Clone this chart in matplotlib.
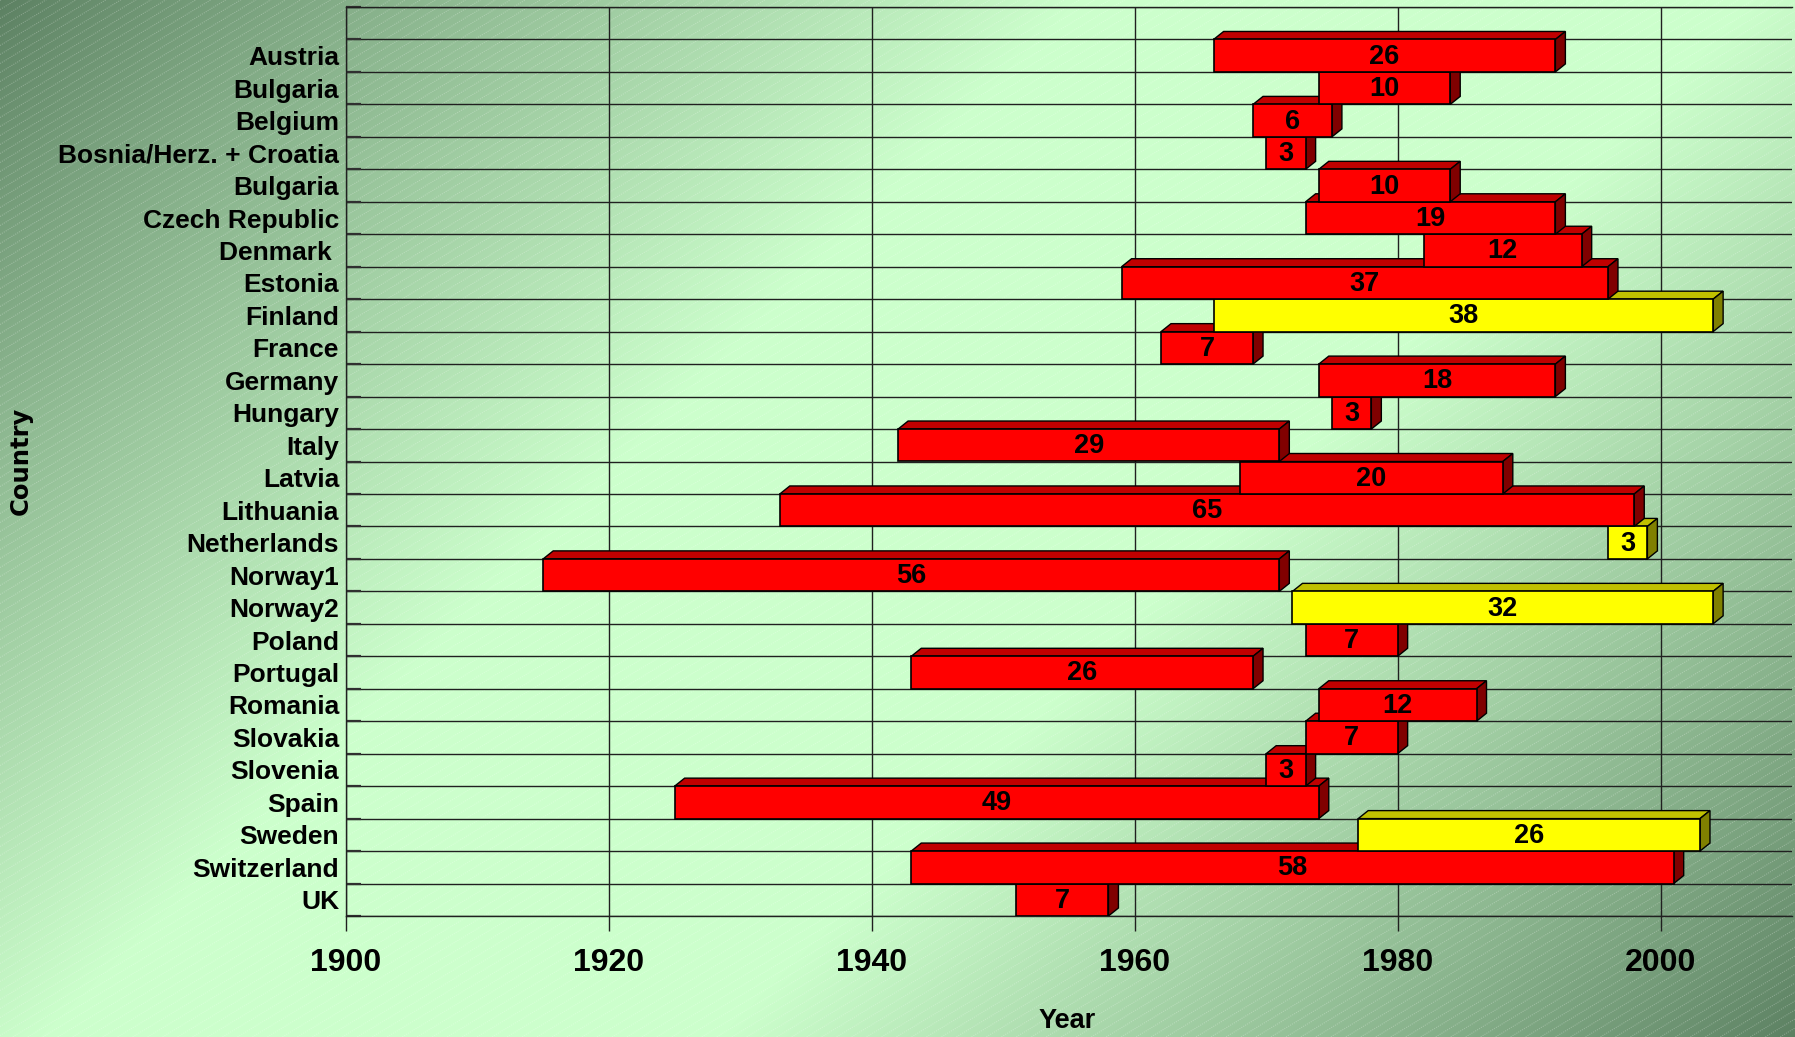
import numpy as np
import matplotlib
matplotlib.use("Agg")
import matplotlib.pyplot as plt
from matplotlib.patches import Rectangle, Polygon
from matplotlib.collections import LineCollection

# data: first year and length (years) of each period
countries = ['Austria', 'Bulgaria', 'Belgium', 'Bosnia/Herz. + Croatia', 'Bulgaria',
             'Czech Republic', 'Denmark ', 'Estonia', 'Finland', 'France', 'Germany',
             'Hungary', 'Italy', 'Latvia', 'Lithuania', 'Netherlands', 'Norway1',
             'Norway2', 'Poland', 'Portugal', 'Romania', 'Slovakia', 'Slovenia',
             'Spain', 'Sweden', 'Switzerland', 'UK']
start_year = [1966, 1974, 1969, 1970, 1974, 1973, 1982, 1959, 1966, 1962, 1974,
              1975, 1942, 1968, 1933, 1996, 1915, 1972, 1973, 1943, 1974, 1973,
              1970, 1925, 1977, 1943, 1951]
n_years = [26, 10, 6, 3, 10, 19, 12, 37, 38, 7, 18, 3, 29, 20, 65, 3, 56, 32, 7,
           26, 12, 7, 3, 49, 26, 58, 7]
yellow = ['Finland', 'Netherlands', 'Norway2', 'Sweden']
xticks = [1900, 1920, 1940, 1960, 1980, 2000]

W, H = 1795, 1037
plt.rcParams['font.family'] = ['Liberation Sans', 'DejaVu Sans']
fig = plt.figure(figsize=(W / 100, H / 100), dpi=100)

# background: diagonal green gradient with faint dotted diagonal lines
bg = fig.add_axes([0, 0, 1, 1], zorder=-10)
xx, yy = np.meshgrid(np.arange(W), np.arange(H))
t = (xx + yy) / (W + H)
w = np.clip((0.5 - np.abs(t - 0.5)) / 0.38, 0, 1) ** 0.9
dark = np.array([0x5c, 0x80, 0x62]) / 255
light = np.array([0xcc, 0xff, 0xcc]) / 255
img = dark[None, None, :] * (1 - w[..., None]) + light[None, None, :] * w[..., None]
bg.imshow(img, extent=(0, W, H, 0), aspect='auto', interpolation='bilinear')
slope = np.tan(np.radians(31))
segs = []
for c in np.arange(-W * slope, H + 20, 9):
    segs.append([(0, H - c), (W, H - c - W * slope)])
bg.add_collection(LineCollection(segs, colors=[(1, 1, 1, 0.25)], linewidths=0.8,
                                 linestyles=[(0, (1, 1))]))
bg.set_xlim(0, W)
bg.set_ylim(H, 0)
bg.axis('off')

ax = fig.add_axes([346 / W, (H - 916) / H, 1446 / W, 909 / H])
ax.patch.set_alpha(0)
n = len(countries)
ax.set_xlim(1900, 2010)
ax.set_ylim(n - 0.5, -1.5)

# 3d depth of the bars, in pixels turned into data units
dx = 10 * 110 / ax.bbox.width
dy = 8 * (n + 1) / ax.bbox.height

for i in range(n):
    x0, d = start_year[i], n_years[i]
    if countries[i] in yellow:
        front, top, side = '#ffff00', '#c0c000', '#808000'
    else:
        front, top, side = '#ff0000', '#c00000', '#800000'
    z = 10 + (n - i)
    yt, yb = i - 0.5, i + 0.5
    ax.add_patch(Polygon([(x0, yt), (x0 + d, yt), (x0 + d + dx, yt - dy), (x0 + dx, yt - dy)],
                         closed=True, fc=top, ec='black', lw=1.0, zorder=z))
    ax.add_patch(Polygon([(x0 + d, yt), (x0 + d, yb), (x0 + d + dx, yb - dy), (x0 + d + dx, yt - dy)],
                         closed=True, fc=side, ec='black', lw=1.0, zorder=z))
    ax.add_patch(Rectangle((x0, yt), d, 1, fc=front, ec='black', lw=1.2, zorder=z))
    ax.text(x0 + d / 2, i + 0.03, str(d), ha='center', va='center', fontsize=19.5,
            fontweight='bold', color='black', zorder=z)

ax.set_xticks(xticks)
ax.set_xticklabels([str(v) for v in xticks], fontsize=23, fontweight='bold')
ax.set_yticks(range(n))
ax.set_yticklabels(countries, fontsize=19, fontweight='bold')
ax.set_yticks(np.arange(-1.5, n, 1), minor=True)
ax.tick_params(axis='y', which='major', length=0, pad=5)
ax.tick_params(axis='y', which='minor', direction='in', length=11, width=1.6, color='#303030')
ax.tick_params(axis='x', direction='out', length=11, width=1.0, pad=12, color='#202020')
ax.grid(axis='x', which='major', color='#202020', lw=1.0, zorder=1)
ax.grid(axis='y', which='minor', color='#202020', lw=1.0, zorder=1)
ax.set_axisbelow(True)
for s in ['top', 'bottom', 'left']:
    ax.spines[s].set_color('#202020')
    ax.spines[s].set_linewidth(1.0)
ax.spines['right'].set_visible(False)

fig.text(1067 / W, 1 - 1021 / H, 'Year', ha='center', va='center', fontsize=19.5,
         fontweight='bold')
fig.text(21 / W, 1 - 461 / H, 'Country', ha='center', va='center', rotation=90,
         fontsize=17.5, fontweight='bold', family='DejaVu Sans')

fig.savefig('out.png', dpi=100)
